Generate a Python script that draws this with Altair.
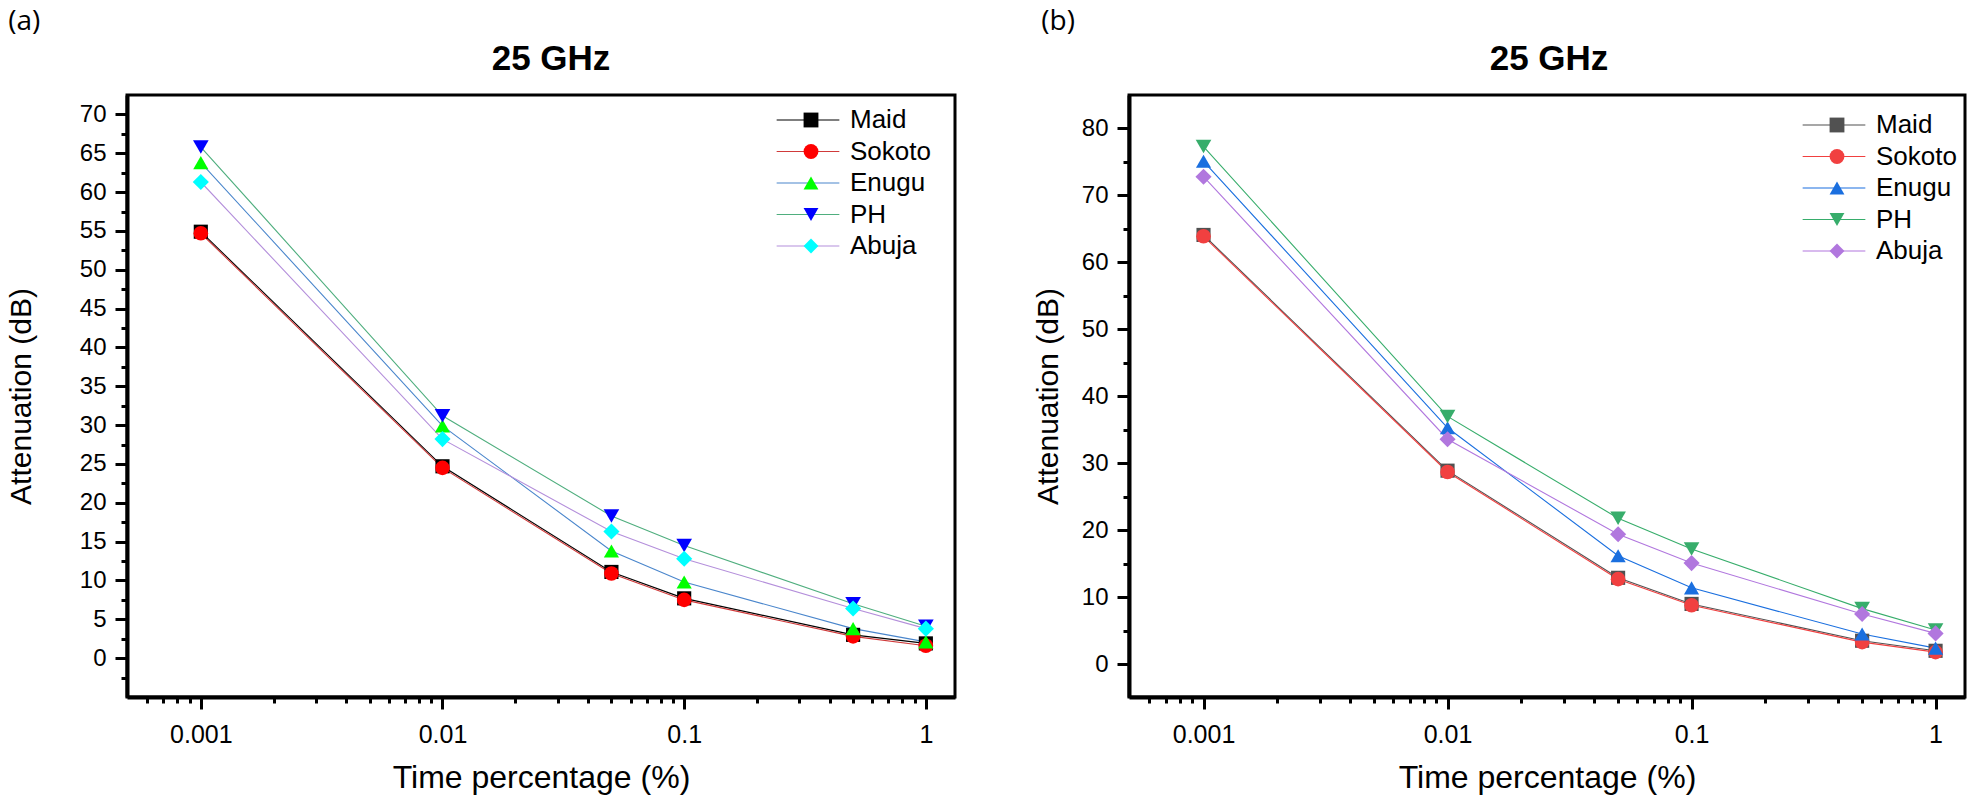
import altair as alt
import pandas as pd

# ---------------- data ----------------
time_pct = [0.001, 0.01, 0.05, 0.1, 0.5, 1]
series = ["Maid", "Sokoto", "Enugu", "PH", "Abuja"]

# panel (a)
a_maid = [54.9, 24.7, 11.1, 7.7, 3.0, 1.9]
a_sokoto = [54.7, 24.5, 10.9, 7.5, 2.8, 1.6]
a_enugu = [63.8, 29.9, 13.8, 9.8, 3.8, 2.1]
a_ph = [65.8, 31.2, 18.3, 14.5, 7.0, 4.1]
a_abuja = [61.3, 28.2, 16.3, 12.8, 6.4, 3.8]

# panel (b)
b_maid = [64.1, 28.9, 12.9, 9.0, 3.5, 2.0]
b_sokoto = [63.9, 28.7, 12.7, 8.8, 3.3, 1.8]
b_enugu = [75.1, 35.3, 16.2, 11.4, 4.5, 2.4]
b_ph = [77.3, 37.0, 21.8, 17.2, 8.3, 5.1]
b_abuja = [72.8, 33.6, 19.4, 15.1, 7.5, 4.6]

shapes = ["square", "circle", "triangle-up", "triangle-down", "diamond"]
marker_sizes = [200, 260, 380, 380, 340]
a_marker_colors = ["#000000", "#FF0000", "#00FF00", "#0000FF", "#00FFFF"]
a_line_colors = ["#000000", "#D03A3A", "#4A86CC", "#4FAE7E", "#B48FDB"]
b_marker_colors = ["#515151", "#F14040", "#1A6FDF", "#37AD6B", "#B177DE"]
b_line_colors = ["#515151", "#F14040", "#1A6FDF", "#37AD6B", "#B177DE"]

x_ticks = [0.0006, 0.0007, 0.0008, 0.0009,
           0.001, 0.002, 0.003, 0.004, 0.005, 0.006, 0.007, 0.008, 0.009,
           0.01, 0.02, 0.03, 0.04, 0.05, 0.06, 0.07, 0.08, 0.09,
           0.1, 0.2, 0.3, 0.4, 0.5, 0.6, 0.7, 0.8, 0.9, 1]
a_y_ticks = [-2.5, 0, 2.5, 5, 7.5, 10, 12.5, 15, 17.5, 20, 22.5, 25, 27.5, 30, 32.5,
             35, 37.5, 40, 42.5, 45, 47.5, 50, 52.5, 55, 57.5, 60, 62.5, 65, 67.5, 70]
b_y_ticks = [0, 5, 10, 15, 20, 25, 30, 35, 40, 45, 50, 55, 60, 65, 70, 75, 80]

FONT = "Liberation Sans, Arial, sans-serif"
# separate scale domains so the line legend, the marker legend and the size scale stay apart
line_keys = [s + " " for s in series]
size_keys = [s + "  " for s in series]


def make_df(cols):
    rows = []
    for s, lk, sk, vals in zip(series, line_keys, size_keys, cols):
        for t, v in zip(time_pct, vals):
            rows.append({"series": s, "lkey": lk, "skey": sk, "t": t, "att": v})
    return pd.DataFrame(rows)


def panel(df, tag, marker_colors, line_colors, y_domain, y_ticks, y_major_mod,
          width, legend_mx, legend_y, ytitle_pad, tag_dx, head_dx):
    height = 602
    xtest = "abs(log(datum.value)/LN10 - round(log(datum.value)/LN10)) < 0.001"
    ytest = f"abs(datum.value % {y_major_mod}) < 0.001"
    x_enc = alt.X(
        "t:Q",
        scale=alt.Scale(type="log", domain=[0.000495, 1.32], nice=False),
        axis=alt.Axis(
            values=x_ticks, format="~g", labelExpr=f"({xtest}) ? datum.label : ''",
            tickSize={"condition": {"test": xtest, "value": 12}, "value": 6},
            labelOverlap=False, labelFlush=False, labelFontSize=25, labelPadding=13,
            title="Time percentage (%)", titleFontSize=32, titlePadding=15,
            grid=False,
        ),
    )
    y_enc = alt.Y(
        "att:Q",
        scale=alt.Scale(domain=y_domain, nice=False, zero=False),
        axis=alt.Axis(
            values=y_ticks, format="d", labelExpr=f"({ytest}) ? datum.label : ''",
            tickSize={"condition": {"test": ytest, "value": 12}, "value": 6},
            labelOverlap=False, labelFlush=False, labelFontSize=24, labelPadding=9,
            title="Attenuation (dB)", titleFontSize=30, titlePadding=ytitle_pad,
            grid=False,
        ),
    )
    line_legend = alt.Legend(
        orient="none", legendX=legend_mx - 14, legendY=legend_y, title=None,
        symbolType="M-2.85,0H2.85", symbolSize=484, symbolStrokeWidth=1.2,
        labelFontSize=26, labelFont=FONT, labelExpr="''", padding=0, rowPadding=5.5,
    )
    mark_legend = alt.Legend(
        orient="none", legendX=legend_mx - 11, legendY=legend_y, title=None,
        symbolSize=220, symbolStrokeWidth=0, symbolOpacity=1,
        labelFontSize=26, labelFont=FONT, labelColor="black", labelOffset=26,
        padding=0, rowPadding=5.5,
    )
    base = alt.Chart(df)
    lines = base.mark_line(strokeWidth=1.1).encode(
        x=x_enc, y=y_enc,
        color=alt.Color("lkey:N", scale=alt.Scale(domain=line_keys, range=line_colors),
                        legend=line_legend),
    )
    points = base.mark_point(filled=True, opacity=1, strokeWidth=0).encode(
        x=x_enc, y=y_enc,
        fill=alt.Fill("series:N", scale=alt.Scale(domain=series, range=marker_colors),
                      legend=mark_legend),
        shape=alt.Shape("series:N", scale=alt.Scale(domain=series, range=shapes),
                        legend=mark_legend),
        size=alt.Size("skey:N", scale=alt.Scale(domain=size_keys, range=marker_sizes),
                      legend=None),
    )
    head = alt.Chart(pd.DataFrame({"label": ["25 GHz"]})).mark_text(
        font=FONT, fontSize=35, fontWeight="bold", align="center", baseline="alphabetic",
        color="black",
    ).encode(text="label:N", x=alt.value(width / 2 + head_dx), y=alt.value(-25))
    return alt.layer(lines, points, head).properties(
        width=width, height=height,
        title=alt.TitleParams(tag, anchor="start", frame="bounds", font="Open Sans",
                              fontSize=28, fontWeight="normal", color="black",
                              offset=6, dx=tag_dx),
    )


df_a = make_df([a_maid, a_sokoto, a_enugu, a_ph, a_abuja])
df_b = make_df([b_maid, b_sokoto, b_enugu, b_ph, b_abuja])

pa = panel(df_a, "(a)", a_marker_colors, a_line_colors, [-5, 72.5], a_y_ticks, 5,
           828, 682, 12, 43, 2, 10)
pb = panel(df_b, "(b)", b_marker_colors, b_line_colors, [-4.9, 85], b_y_ticks, 10,
           836, 706, 17, 18, 8, 2)

chart = alt.hconcat(pa, pb, spacing=74).resolve_scale(
    color="independent", fill="independent", shape="independent", size="independent"
).properties(
    padding={"left": 4, "top": 6, "right": 0, "bottom": 0}
).configure_view(
    stroke="black", strokeWidth=3
).configure_axis(
    domainColor="black", domainWidth=4, tickColor="black", tickWidth=3,
    labelColor="black", titleColor="black", labelFont=FONT, titleFont=FONT,
    titleFontWeight="normal",
)

chart.save("out.html", embed_options={"renderer": "svg", "actions": False})
